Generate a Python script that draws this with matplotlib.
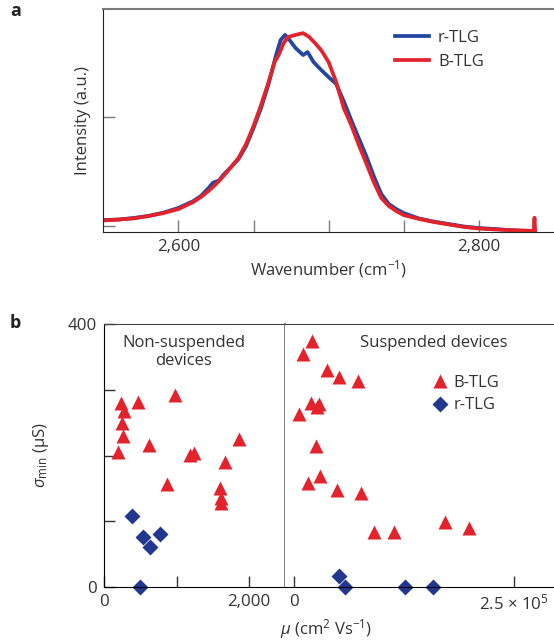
import matplotlib
matplotlib.use('Agg')
from matplotlib import pyplot as plt

plt.rcParams['font.family'] = ['Open Sans', 'DejaVu Sans']
plt.rcParams['mathtext.fontset'] = 'custom'
plt.rcParams['mathtext.rm'] = 'Open Sans'
plt.rcParams['mathtext.it'] = 'Open Sans:italic'

TEXT = '#333333'
BLUE = '#2346a0'
RED = '#e3232b'
NAVY = '#23378f'
GREY = '#7a7a7a'

# panel a: Raman 2D band
wn_r = [2550, 2560, 2570, 2580, 2590, 2600, 2610, 2615, 2620, 2623, 2627, 2630, 2635,
        2640, 2645, 2650, 2655, 2660, 2665, 2668, 2671, 2674, 2678, 2683, 2686, 2690,
        2695, 2700, 2705, 2710, 2715, 2720, 2725, 2730, 2735, 2740, 2745, 2750, 2760,
        2770, 2780, 2790, 2800, 2810, 2820, 2830, 2835]
int_r = [0.055, 0.057, 0.064, 0.073, 0.088, 0.109, 0.140, 0.163, 0.198, 0.222, 0.232,
         0.258, 0.292, 0.328, 0.386, 0.467, 0.557, 0.664, 0.794, 0.861, 0.884, 0.861,
         0.825, 0.794, 0.807, 0.762, 0.727, 0.695, 0.664, 0.588, 0.503, 0.422, 0.342,
         0.252, 0.172, 0.127, 0.104, 0.086, 0.062, 0.048, 0.037, 0.026, 0.019, 0.015,
         0.010, 0.006, 0.001]

wn_b = [2550, 2560, 2570, 2580, 2590, 2600, 2610, 2615, 2620, 2625, 2630, 2635, 2640,
        2645, 2650, 2655, 2660, 2664, 2667, 2670, 2673, 2678, 2683, 2687, 2691, 2695,
        2700, 2705, 2710, 2715, 2720, 2725, 2730, 2735, 2740, 2745, 2750, 2760, 2770,
        2780, 2790, 2800, 2810, 2820, 2830, 2836.5, 2837, 2837.5]
int_b = [0.053, 0.057, 0.062, 0.073, 0.086, 0.104, 0.136, 0.158, 0.185, 0.216, 0.252,
         0.292, 0.333, 0.395, 0.476, 0.570, 0.673, 0.762, 0.798, 0.847, 0.875, 0.884,
         0.892, 0.875, 0.847, 0.816, 0.762, 0.673, 0.557, 0.481, 0.392, 0.310, 0.225,
         0.154, 0.118, 0.095, 0.077, 0.060, 0.046, 0.035, 0.024, 0.017, 0.013, 0.010,
         0.008, 0.006, 0.065, 0.0]

# panel b: minimum conductivity vs mobility
ns_tri_mu = [226, 469, 276, 985, 248, 262, 185, 612, 1192, 1241, 1674, 1858, 869, 1606, 1614, 1619]
ns_tri_sig = [280, 282, 268, 292, 249, 229, 206, 216, 201, 204, 190, 225, 156, 150, 135, 128]
ns_dia_mu = [378, 538, 630, 772, 492]
ns_dia_sig = [108, 75, 61, 81, 0]

s_tri_mu = [19800, 9560, 36900, 51200, 72100, 18700, 28400, 26200, 5700, 24700,
            15200, 29200, 48200, 75500, 91000, 113500, 171500, 198800]
s_tri_sig = [375, 355, 331, 319, 313, 280, 278, 274, 263, 214,
             158, 168, 147, 143, 84, 84, 98, 89]
s_dia_mu = [51200, 57700, 126000, 158200]
s_dia_sig = [16, 0, 0, 0]

fig = plt.figure(figsize=(5.54, 6.44), dpi=100)

# ---------- a ----------
ax = fig.add_axes([0.1865, 0.6393, 0.8135, 0.3467])
ax.plot(wn_r, int_r, color=BLUE, lw=2.7, label='r-TLG', solid_joinstyle='round')
ax.plot(wn_b, int_b, color=RED, lw=2.7, label='B-TLG', solid_joinstyle='round')
ax.set_xlim(2550, 2850)
ax.set_ylim(0, 1)
ax.set_xticks([2600, 2800])
ax.set_xticklabels(['2,600', '2,800'])
ax.set_xticks([2650, 2700, 2750], minor=True)
ax.set_yticks([0.03, 0.515])
ax.set_yticklabels([])
ax.tick_params(which='both', direction='in', length=8.5, width=1, color=GREY,
               labelsize=12.2, labelcolor=TEXT, pad=5)
ax.spines['right'].set_visible(False)
ax.spines['top'].set_color(GREY)
ax.spines['top'].set_linewidth(1.5)
ax.spines['left'].set_color('#222222')
ax.spines['bottom'].set_color('#222222')
ax.set_xlabel('Wavenumber (cm$^{-1}$)', fontsize=12, color=TEXT, labelpad=2)
ax.set_ylabel('Intensity (a.u.)', fontsize=12, color=TEXT, labelpad=4)
ax.legend(loc='upper left', bbox_to_anchor=(0.615, 0.975), frameon=False,
          fontsize=12, handlelength=2.0, handletextpad=0.55, labelspacing=0.5,
          labelcolor=TEXT)
fig.text(0.018, 0.975, 'a', fontsize=13, fontweight='bold', color='#222222')

# ---------- b ----------
axl = fig.add_axes([0.1883, 0.0890, 0.3261, 0.4074])
axr = fig.add_axes([0.5144, 0.0890, 0.4856, 0.4074], sharey=axl)

axl.plot(ns_tri_mu, ns_tri_sig, '^', color=RED, ms=10, mec='none')
axl.plot(ns_dia_mu, ns_dia_sig, 'D', color=NAVY, ms=8.5, mec='none', clip_on=False)
axr.plot(s_tri_mu, s_tri_sig, '^', color=RED, ms=10, mec='none', label='B-TLG')
axr.plot(s_dia_mu, s_dia_sig, 'D', color=NAVY, ms=8.5, mec='none', clip_on=False,
         label='r-TLG')

axl.set_xlim(0, 2500)
axl.set_ylim(0, 400)
axl.set_xticks([0, 1000, 2000])
axl.set_xticklabels(['0', '', '2,000'])
axl.set_yticks([0, 100, 200, 300, 400])
axl.set_yticklabels(['0', '', '', '', '400'])
axl.tick_params(direction='in', length=8, width=1, color='#333333',
                labelsize=12.2, labelcolor=TEXT, pad=5)
axl.spines['right'].set_color(GREY)
axl.spines['right'].set_linewidth(1.3)
axl.spines['top'].set_color('#444444')

axr.set_xlim(-10600, 296000)
axr.set_xticks([0, 250000])
axr.set_xticklabels(['0', '2.5 × 10$^5$'])
axr.tick_params(axis='x', direction='in', length=8, width=1, color='#333333',
                labelsize=12.2, labelcolor=TEXT, pad=5)
axr.tick_params(axis='y', left=False, labelleft=False)
axr.spines['left'].set_visible(False)
axr.spines['right'].set_visible(False)
axr.spines['top'].set_color('#444444')

axl.text(0.44, 0.96, 'Non-suspended\ndevices', transform=axl.transAxes, ha='center',
         va='top', fontsize=12, color=TEXT, linespacing=1.2)
axr.text(0.553, 0.96, 'Suspended devices', transform=axr.transAxes, ha='center',
         va='top', fontsize=12, color=TEXT)
axr.legend(loc='upper left', bbox_to_anchor=(0.495, 0.865), frameon=False, fontsize=12,
           handlelength=0.8, handletextpad=0.4, labelspacing=0.4, labelcolor=TEXT)

axl.set_ylabel(r'$\it{\sigma}_{\rm min}$ (μS)', fontsize=12, color=TEXT, labelpad=12)
fig.text(0.588, 0.004, r'$\it{\mu}$ (cm$^2$ Vs$^{-1}$)', ha='center', va='bottom',
         fontsize=12, color=TEXT)
fig.text(0.018, 0.49, 'b', fontsize=13, fontweight='bold', color='#222222')

fig.savefig('out.png', dpi=100)
